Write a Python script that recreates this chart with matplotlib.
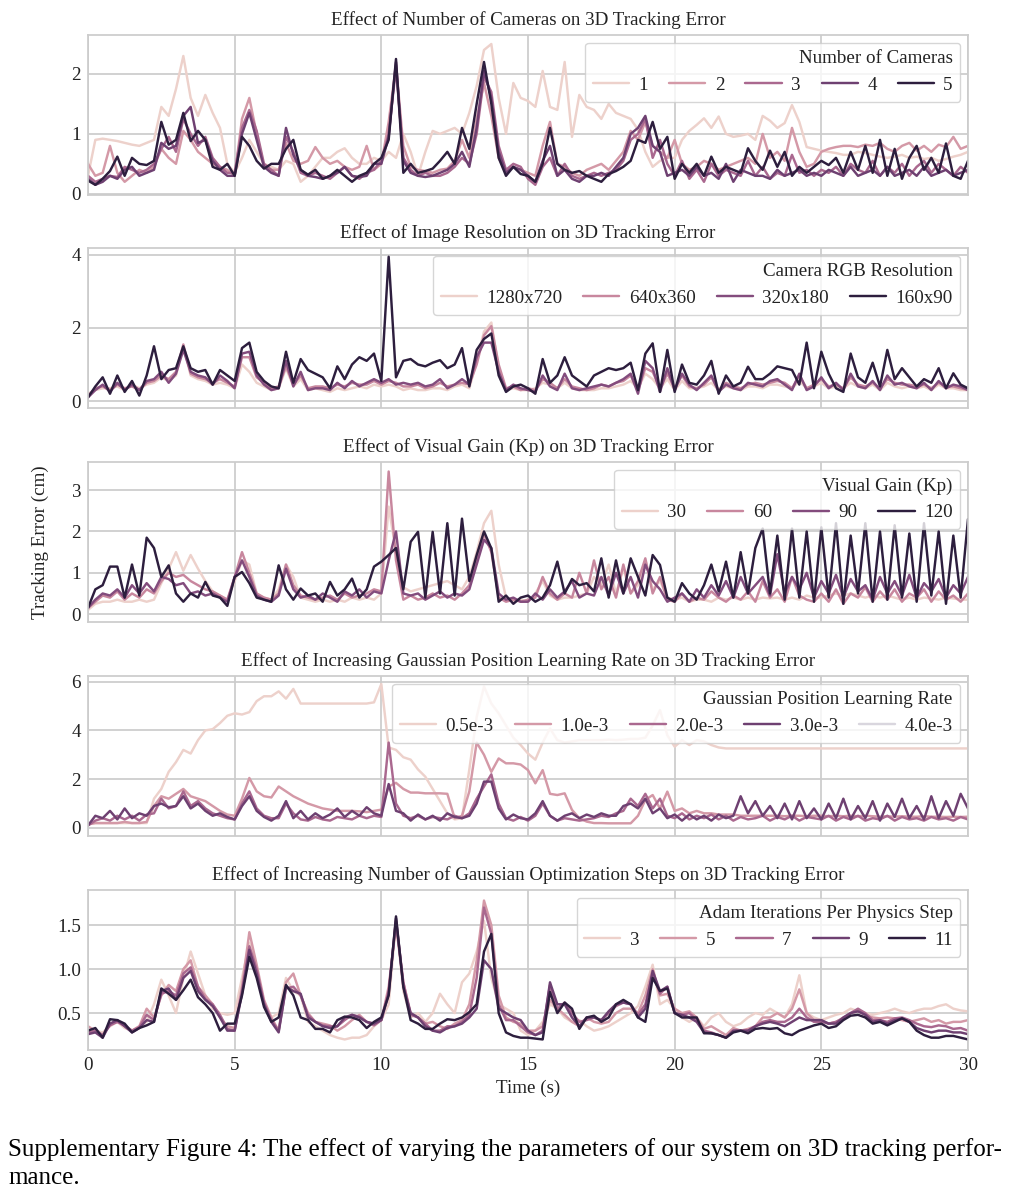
import numpy as np
import matplotlib
matplotlib.use("Agg")
import matplotlib.pyplot as plt
import seaborn as sns
from matplotlib.lines import Line2D

# sample times (0.25 s steps over 30 s)
time_s = np.linspace(0, 30, 121)

# ---- panel 1: number of cameras ----
cam_labels = ["1", "2", "3", "4", "5"]
cam_1 = [0.3, 0.9, 0.92, 0.9, 0.88, 0.85, 0.82, 0.8, 0.85, 0.9, 1.45, 1.3, 1.75, 2.3, 1.6, 1.3, 1.65, 1.35, 1.1, 0.5,
         0.35, 0.6, 0.9, 0.7, 0.5, 0.45, 0.4, 0.55, 0.5, 0.2, 0.3, 0.45, 0.6, 0.6, 0.7, 0.76, 0.6, 0.5, 0.5, 0.6,
         0.55, 0.7, 0.6, 1.0, 0.7, 0.3, 0.7, 1.05, 1.0, 1.05, 1.1, 1.0, 1.35, 1.8, 2.4, 2.5, 1.6, 1.0, 1.85, 1.6,
         1.55, 1.45, 2.05, 1.45, 1.4, 2.2, 0.95, 1.65, 1.45, 1.4, 1.25, 1.5, 1.35, 1.3, 1.25, 1.07, 0.7, 0.45, 0.55, 0.6,
         0.6, 0.9, 1.05, 1.15, 1.26, 1.1, 1.29, 1.0, 0.95, 0.97, 1.0, 0.9, 1.3, 1.22, 1.1, 1.18, 1.48, 1.2, 0.78, 0.75,
         0.72, 0.7, 0.68, 0.65, 0.65, 0.7, 0.68, 0.65, 0.62, 0.6, 0.62, 0.65, 0.6, 0.62, 0.58, 0.6, 0.55, 0.58, 0.62, 0.65, 0.7]
cam_2 = [0.5, 0.3, 0.35, 0.8, 0.35, 0.2, 0.3, 0.4, 0.35, 0.45, 0.75, 0.6, 0.5, 1.05, 0.9, 0.7, 0.6, 0.5, 0.45, 0.4,
         0.3, 1.25, 1.6, 1.0, 0.45, 0.4, 0.4, 0.85, 0.55, 0.5, 0.55, 0.78, 0.6, 0.5, 0.55, 0.45, 0.4, 0.45, 0.8, 0.4,
         0.5, 1.2, 2.15, 0.8, 0.45, 0.4, 0.38, 0.35, 0.4, 0.42, 0.55, 0.9, 0.6, 1.25, 1.85, 1.3, 0.6, 0.35, 0.45, 0.4,
         0.35, 0.3, 0.8, 1.2, 0.5, 0.45, 0.35, 0.3, 0.4, 0.45, 0.5, 0.4, 0.55, 0.7, 1.05, 0.9, 1.2, 0.8, 0.7, 0.6,
         0.9, 0.5, 0.4, 0.45, 0.55, 0.5, 0.4, 0.45, 0.5, 0.55, 0.6, 0.5, 1.0, 0.6, 0.7, 0.55, 1.1, 0.7, 0.45, 0.5,
         0.7, 0.75, 0.78, 0.8, 0.8, 0.78, 0.82, 0.8, 0.85, 0.75, 0.7, 0.8, 0.85, 0.72, 0.8, 0.7, 0.82, 0.78, 0.95, 0.75, 0.8]
cam_3 = [0.3, 0.2, 0.25, 0.3, 0.28, 0.45, 0.4, 0.35, 0.4, 0.5, 0.75, 0.95, 0.7, 1.25, 1.0, 0.8, 0.95, 0.6, 0.45, 0.35,
         0.35, 1.1, 1.4, 1.05, 0.5, 0.4, 0.3, 0.95, 0.7, 0.35, 0.3, 0.35, 0.3, 0.25, 0.35, 0.45, 0.3, 0.25, 0.35, 0.4,
         0.55, 1.0, 2.1, 0.6, 0.4, 0.3, 0.35, 0.3, 0.3, 0.35, 0.45, 0.6, 0.5, 1.0, 1.95, 1.7, 0.8, 0.4, 0.5, 0.45,
         0.25, 0.15, 0.45, 0.6, 0.3, 0.5, 0.3, 0.25, 0.3, 0.35, 0.3, 0.35, 0.4, 0.55, 0.9, 1.0, 1.25, 0.6, 0.9, 0.5,
         0.3, 0.55, 0.25, 0.4, 0.2, 0.5, 0.3, 0.4, 0.35, 0.3, 0.55, 0.3, 0.45, 0.25, 0.35, 0.3, 0.65, 0.35, 0.4, 0.3,
         0.4, 0.35, 0.45, 0.3, 0.5, 0.4, 0.35, 0.55, 0.3, 0.45, 0.35, 0.5, 0.3, 0.45, 0.55, 0.35, 0.5, 0.4, 0.3, 0.45, 0.35]
cam_4 = [0.25, 0.15, 0.2, 0.3, 0.25, 0.4, 0.45, 0.3, 0.35, 0.4, 0.85, 0.75, 0.8, 1.3, 1.45, 0.85, 0.9, 0.55, 0.4, 0.3,
         0.3, 1.0, 1.35, 0.9, 0.45, 0.35, 0.3, 1.1, 0.65, 0.4, 0.3, 0.28, 0.25, 0.3, 0.35, 0.45, 0.3, 0.28, 0.3, 0.5,
         0.5, 0.95, 2.2, 0.55, 0.35, 0.3, 0.28, 0.3, 0.35, 0.4, 0.5, 0.7, 0.45, 1.1, 2.05, 1.6, 0.7, 0.35, 0.45, 0.4,
         0.3, 0.2, 0.55, 0.8, 0.3, 0.4, 0.25, 0.2, 0.3, 0.3, 0.35, 0.3, 0.45, 0.6, 1.0, 1.1, 1.3, 0.8, 0.7, 0.3,
         0.35, 0.4, 0.3, 0.45, 0.3, 0.35, 0.25, 0.5, 0.2, 0.4, 0.35, 0.3, 0.3, 0.25, 0.4, 0.3, 0.35, 0.4, 0.3, 0.35,
         0.3, 0.4, 0.35, 0.3, 0.45, 0.3, 0.35, 0.4, 0.3, 0.45, 0.3, 0.35, 0.4, 0.3, 0.45, 0.3, 0.35, 0.4, 0.3, 0.35, 0.4]
cam_5 = [0.22, 0.15, 0.25, 0.38, 0.62, 0.3, 0.6, 0.5, 0.48, 0.55, 1.2, 0.82, 0.9, 1.35, 0.88, 1.05, 0.9, 0.45, 0.4, 0.5,
         0.3, 0.95, 0.8, 0.55, 0.42, 0.5, 0.5, 0.75, 0.9, 0.4, 0.32, 0.4, 0.25, 0.3, 0.4, 0.3, 0.2, 0.3, 0.35, 0.5,
         0.6, 0.9, 2.25, 0.35, 0.5, 0.35, 0.38, 0.42, 0.55, 0.7, 0.5, 1.1, 0.75, 1.5, 2.2, 1.5, 0.6, 0.3, 0.45, 0.33,
         0.3, 0.2, 0.5, 1.1, 0.5, 0.4, 0.35, 0.38, 0.3, 0.25, 0.2, 0.33, 0.38, 0.45, 0.55, 0.9, 0.85, 1.2, 0.75, 0.95,
         0.25, 0.5, 0.35, 0.5, 0.3, 0.62, 0.35, 0.45, 0.4, 0.35, 0.76, 0.55, 0.4, 0.72, 0.45, 0.7, 0.3, 0.45, 0.35, 0.45,
         0.55, 0.48, 0.6, 0.35, 0.7, 0.4, 0.8, 0.35, 0.9, 0.3, 0.75, 0.25, 0.6, 0.8, 0.4, 0.6, 0.35, 0.84, 0.3, 0.25, 0.55]

# ---- panel 2: image resolution ----
res_labels = ["1280x720", "640x360", "320x180", "160x90"]
res_1280 = [0.2, 0.3, 0.35, 0.35, 0.4, 0.3, 0.45, 0.35, 0.45, 0.5, 0.65, 0.55, 0.7, 1.5, 0.7, 0.6, 0.55, 0.45, 0.5, 0.45,
            0.35, 1.0, 0.8, 0.5, 0.4, 0.3, 0.35, 0.9, 0.4, 0.6, 0.3, 0.35, 0.3, 0.25, 0.35, 0.3, 0.35, 0.4, 0.35, 0.45,
            0.4, 0.45, 0.4, 0.3, 0.35, 0.3, 0.3, 0.35, 0.35, 0.3, 0.4, 0.45, 0.35, 1.1, 1.9, 2.15, 0.9, 0.3, 0.35, 0.3,
            0.3, 0.35, 0.5, 0.45, 0.35, 0.5, 0.35, 0.3, 0.3, 0.3, 0.35, 0.35, 0.4, 0.45, 0.55, 0.35, 0.75, 0.6, 0.35, 0.6,
            0.3, 0.55, 0.35, 0.35, 0.4, 0.5, 0.3, 0.4, 0.35, 0.3, 0.4, 0.4, 0.35, 0.45, 0.45, 0.4, 0.35, 0.55, 0.35, 0.4,
            0.5, 0.35, 0.4, 0.35, 0.5, 0.4, 0.35, 0.45, 0.3, 0.5, 0.4, 0.35, 0.4, 0.35, 0.4, 0.3, 0.45, 0.35, 0.35, 0.3, 0.3]
res_640 = [0.15, 0.35, 0.4, 0.3, 0.45, 0.35, 0.4, 0.3, 0.5, 0.55, 0.7, 0.6, 0.8, 1.55, 0.75, 0.65, 0.6, 0.5, 0.6, 0.5,
           0.4, 1.2, 1.2, 0.65, 0.5, 0.35, 0.4, 0.95, 0.45, 0.7, 0.35, 0.4, 0.4, 0.35, 0.45, 0.4, 0.5, 0.45, 0.45, 0.55,
           0.45, 0.55, 0.5, 0.4, 0.4, 0.45, 0.35, 0.4, 0.5, 0.4, 0.45, 0.5, 0.45, 1.0, 1.8, 2.05, 1.0, 0.35, 0.4, 0.3,
           0.35, 0.3, 0.6, 0.5, 0.35, 0.6, 0.4, 0.35, 0.3, 0.35, 0.45, 0.4, 0.5, 0.55, 0.7, 0.3, 0.9, 0.8, 0.35, 0.75,
           0.35, 0.7, 0.4, 0.35, 0.45, 0.65, 0.3, 0.5, 0.4, 0.35, 0.45, 0.5, 0.45, 0.5, 0.55, 0.5, 0.35, 0.7, 0.35, 0.45,
           0.6, 0.4, 0.45, 0.35, 0.65, 0.45, 0.4, 0.5, 0.35, 0.6, 0.5, 0.45, 0.45, 0.4, 0.45, 0.35, 0.5, 0.4, 0.4, 0.35, 0.3]
res_320 = [0.1, 0.3, 0.45, 0.25, 0.5, 0.3, 0.45, 0.3, 0.55, 0.6, 0.8, 0.5, 0.75, 1.4, 0.8, 0.7, 0.65, 0.45, 0.7, 0.55,
           0.35, 1.3, 1.35, 0.7, 0.45, 0.3, 0.35, 1.1, 0.4, 0.8, 0.3, 0.35, 0.35, 0.3, 0.5, 0.35, 0.55, 0.4, 0.5, 0.6,
           0.5, 0.6, 0.45, 0.5, 0.45, 0.5, 0.4, 0.45, 0.6, 0.35, 0.45, 0.6, 0.45, 1.2, 1.6, 1.6, 0.8, 0.3, 0.45, 0.35,
           0.3, 0.25, 0.7, 0.4, 0.3, 0.75, 0.35, 0.3, 0.35, 0.4, 0.45, 0.4, 0.5, 0.6, 0.75, 0.2, 1.1, 0.9, 0.25, 0.9,
           0.3, 0.75, 0.45, 0.3, 0.5, 0.7, 0.25, 0.45, 0.35, 0.3, 0.5, 0.45, 0.4, 0.55, 0.6, 0.45, 0.3, 0.75, 0.3, 0.4,
           0.65, 0.35, 0.5, 0.3, 0.75, 0.4, 0.35, 0.55, 0.3, 0.7, 0.45, 0.5, 0.4, 0.35, 0.5, 0.3, 0.55, 0.35, 0.45, 0.4, 0.3]
res_160 = [0.1, 0.4, 0.65, 0.2, 0.7, 0.25, 0.55, 0.15, 0.7, 1.5, 0.6, 0.85, 0.9, 1.5, 0.9, 0.8, 0.85, 0.45, 0.85, 0.7,
           0.55, 1.45, 1.6, 0.8, 0.55, 0.4, 0.35, 1.35, 0.5, 1.15, 0.85, 0.75, 0.65, 0.35, 0.95, 0.6, 1.0, 1.2, 1.1, 1.3,
           0.55, 3.95, 0.65, 1.1, 1.15, 1.0, 0.95, 1.05, 1.12, 0.9, 1.0, 1.45, 0.4, 1.4, 1.7, 1.85, 0.7, 0.25, 0.4, 0.45,
           0.35, 0.2, 1.15, 0.5, 0.7, 1.2, 0.7, 0.55, 0.4, 0.7, 0.8, 0.9, 0.85, 0.9, 1.05, 0.3, 1.3, 1.58, 0.25, 1.4,
           0.25, 1.0, 0.5, 0.45, 0.7, 1.1, 0.2, 0.7, 0.4, 0.5, 0.94, 0.6, 0.6, 0.75, 0.95, 0.9, 0.85, 0.45, 1.6, 0.35,
           1.35, 0.75, 0.35, 0.25, 1.3, 0.65, 0.5, 1.05, 0.4, 1.4, 0.6, 0.9, 0.65, 0.4, 0.6, 0.5, 0.9, 0.35, 0.76, 0.45, 0.35]

# ---- panel 3: visual gain ----
kp_labels = ["30", "60", "90", "120"]
kp_30 = [0.1, 0.25, 0.3, 0.3, 0.35, 0.3, 0.3, 0.35, 0.3, 0.35, 0.75, 1.1, 1.5, 1.05, 1.43, 1.1, 0.8, 0.55, 0.45, 0.35,
         0.8, 1.3, 1.2, 0.5, 0.4, 0.35, 0.6, 1.2, 0.9, 0.4, 0.35, 0.3, 0.35, 0.3, 0.35, 0.3, 0.4, 0.35, 0.4, 0.35,
         0.5, 2.6, 1.5, 0.65, 0.55, 0.6, 0.65, 0.7, 0.75, 0.8, 0.7, 0.6, 0.9, 1.5, 2.2, 2.5, 1.2, 0.4, 0.3, 0.35,
         0.3, 0.5, 0.8, 0.45, 0.35, 0.4, 0.4, 0.45, 0.5, 0.9, 0.7, 1.2, 0.5, 1.1, 0.5, 0.7, 1.3, 0.6, 0.8, 0.4,
         0.35, 0.4, 0.3, 0.35, 0.35, 0.3, 0.4, 0.35, 0.4, 0.35, 0.4, 0.35, 0.4, 0.38, 0.4, 0.35, 0.4, 0.35, 0.45, 0.4,
         0.4, 0.45, 0.5, 0.45, 0.5, 0.45, 0.4, 0.45, 0.4, 0.45, 0.4, 0.35, 0.4, 0.35, 0.4, 0.38, 0.35, 0.4, 0.38, 0.35, 0.35]
kp_60 = [0.15, 0.3, 0.45, 0.4, 0.55, 0.35, 0.5, 0.4, 0.6, 0.5, 0.8, 1.0, 0.9, 0.95, 0.8, 0.7, 0.6, 0.55, 0.45, 0.35,
         0.9, 1.5, 1.0, 0.5, 0.4, 0.35, 0.5, 1.2, 0.7, 0.45, 0.4, 0.35, 0.4, 0.45, 0.35, 0.5, 0.4, 0.45, 0.5, 0.6,
         0.55, 3.45, 1.3, 0.35, 0.45, 0.35, 0.4, 0.5, 0.4, 0.45, 0.35, 0.5, 0.7, 1.3, 1.95, 1.5, 0.4, 0.3, 0.35, 0.3,
         0.35, 0.4, 0.9, 0.5, 0.35, 0.5, 0.4, 1.0, 0.5, 1.3, 0.6, 0.9, 0.4, 1.2, 0.5, 0.8, 1.35, 0.5, 0.9, 0.35,
         0.3, 0.5, 0.3, 0.4, 0.35, 0.55, 0.4, 0.3, 0.45, 0.35, 0.55, 0.3, 0.8, 0.4, 0.6, 0.3, 0.9, 0.45, 0.35, 0.3,
         0.5, 0.3, 0.6, 0.25, 0.5, 0.4, 0.65, 0.3, 0.55, 0.35, 0.6, 0.3, 0.5, 0.4, 0.6, 0.3, 0.55, 0.35, 0.45, 0.3, 0.5]
kp_90 = [0.15, 0.35, 0.5, 0.45, 0.6, 0.4, 0.7, 0.5, 0.75, 0.55, 0.9, 0.85, 0.7, 0.75, 0.5, 0.55, 0.45, 0.5, 0.4, 0.3,
         0.9, 1.3, 0.9, 0.45, 0.35, 0.3, 0.45, 1.1, 0.6, 0.4, 0.45, 0.35, 0.5, 0.4, 0.3, 0.55, 0.45, 0.6, 0.4, 0.55,
         0.5, 1.3, 2.0, 0.5, 0.45, 0.5, 0.35, 0.45, 0.55, 0.4, 0.5, 0.45, 0.6, 1.2, 1.8, 1.6, 0.5, 0.35, 0.4, 0.3,
         0.3, 0.5, 0.35, 0.6, 0.4, 0.55, 0.8, 0.4, 0.5, 0.45, 0.9, 0.45, 1.0, 0.5, 0.9, 0.4, 1.2, 0.8, 0.6, 0.3,
         0.4, 0.5, 0.3, 0.6, 0.4, 0.7, 0.45, 0.8, 0.4, 0.9, 0.5, 0.7, 0.9, 0.45, 1.45, 0.5, 0.9, 0.6, 1.0, 0.4,
         0.8, 0.5, 0.95, 0.4, 0.85, 0.55, 0.7, 0.35, 0.9, 0.5, 0.8, 0.45, 0.95, 0.4, 0.75, 0.55, 0.85, 0.4, 0.7, 0.5, 0.9]
kp_120 = [0.15, 0.6, 0.7, 1.15, 1.15, 0.4, 1.2, 0.45, 1.85, 1.6, 0.9, 1.18, 0.5, 0.3, 0.5, 0.4, 0.78, 0.45, 0.4, 0.2,
          0.9, 1.02, 0.75, 0.4, 0.35, 0.3, 1.18, 0.6, 0.35, 0.62, 0.45, 0.5, 0.3, 0.78, 0.45, 0.6, 0.86, 0.4, 0.6, 1.15,
          1.27, 1.43, 1.6, 0.6, 1.75, 1.99, 0.4, 1.99, 0.5, 2.2, 0.45, 2.31, 0.8, 1.43, 2.0, 1.59, 0.3, 0.45, 0.25, 0.4,
          0.45, 0.3, 0.4, 0.7, 1.27, 0.5, 0.85, 0.7, 0.75, 0.55, 1.35, 0.4, 1.3, 0.5, 1.35, 0.9, 0.45, 1.43, 1.19, 0.4,
          0.3, 0.75, 0.5, 0.35, 0.7, 1.2, 0.55, 1.27, 0.4, 1.5, 0.5, 1.6, 2.07, 0.5, 1.9, 0.35, 2.07, 0.4, 2.0, 0.3,
          2.1, 0.4, 2.2, 0.25, 1.9, 0.5, 2.2, 0.3, 2.0, 0.35, 2.15, 0.4, 1.95, 0.3, 2.2, 0.45, 2.0, 0.25, 1.9, 0.4, 2.3]

# ---- panel 4: gaussian position learning rate ----
lr_labels = ["0.5e-3", "1.0e-3", "2.0e-3", "3.0e-3", "4.0e-3"]
lr_05 = [0.15, 0.2, 0.2, 0.2, 0.2, 0.2, 0.2, 0.2, 0.2, 1.2, 1.6, 2.3, 2.7, 3.2, 3.05, 3.6, 4.0, 4.05, 4.3, 4.6,
         4.7, 4.65, 4.75, 5.2, 5.4, 5.4, 5.6, 5.3, 5.7, 5.1, 5.1, 5.1, 5.1, 5.1, 5.1, 5.1, 5.1, 5.1, 5.1, 5.15,
         5.9, 3.3, 3.2, 2.9, 2.8, 2.4, 2.1, 1.6, 1.1, 0.6, 0.35, 0.4, 2.4, 4.55, 5.8, 5.1, 4.7, 4.2, 3.7, 3.4,
         3.05, 2.8, 3.5, 4.08, 3.6, 3.5, 3.55, 3.6, 3.6, 3.6, 3.6, 3.62, 3.6, 3.62, 3.65, 3.65, 3.7, 4.2, 4.83, 3.8,
         3.33, 3.6, 3.4, 3.6, 3.55, 3.4, 3.3, 3.26, 3.26, 3.26, 3.26, 3.26, 3.26, 3.26, 3.26, 3.26, 3.26, 3.26, 3.26, 3.26,
         3.26, 3.26, 3.26, 3.26, 3.26, 3.26, 3.26, 3.26, 3.26, 3.26, 3.26, 3.26, 3.26, 3.26, 3.26, 3.26, 3.26, 3.26, 3.26, 3.26, 3.26]
lr_10 = [0.15, 0.2, 0.2, 0.2, 0.2, 0.25, 0.2, 0.2, 0.25, 0.9, 1.3, 1.2, 1.4, 1.6, 1.3, 1.2, 1.1, 0.9, 0.7, 0.55,
         0.5, 1.2, 2.05, 1.5, 1.3, 1.25, 1.7, 1.5, 1.3, 1.15, 1.0, 0.9, 0.8, 0.75, 0.7, 0.7, 0.7, 0.68, 0.65, 0.7,
         0.75, 1.7, 1.85, 1.6, 1.45, 1.45, 1.42, 1.42, 1.42, 1.4, 0.4, 0.5, 1.5, 3.5, 3.0, 2.3, 2.85, 2.65, 2.65, 2.6,
         2.37, 1.83, 2.37, 1.4, 1.35, 1.42, 0.74, 0.4, 0.26, 0.2, 0.2, 0.19, 0.19, 0.19, 0.19, 0.5, 1.15, 1.35, 0.8, 1.49,
         0.7, 0.8, 0.6, 0.7, 0.6, 0.6, 0.55, 0.55, 0.55, 0.5, 0.5, 0.5, 0.5, 0.5, 0.5, 0.48, 0.5, 0.5, 0.48, 0.5,
         0.5, 0.48, 0.5, 0.48, 0.5, 0.48, 0.5, 0.48, 0.46, 0.48, 0.46, 0.48, 0.46, 0.46, 0.48, 0.46, 0.46, 0.45, 0.46, 0.45, 0.46]
lr_20 = [0.1, 0.3, 0.4, 0.3, 0.5, 0.35, 0.5, 0.3, 0.55, 0.6, 1.2, 0.8, 0.9, 1.5, 0.9, 1.1, 0.8, 0.6, 0.5, 0.4,
         0.35, 1.0, 1.5, 0.8, 0.5, 0.4, 0.4, 1.0, 0.6, 0.35, 0.3, 0.45, 0.35, 0.3, 0.45, 0.4, 0.35, 0.5, 0.4, 0.5,
         0.45, 3.5, 1.0, 0.5, 0.4, 0.5, 0.35, 0.45, 0.4, 0.35, 0.5, 0.4, 0.6, 1.2, 1.7, 2.2, 1.0, 0.4, 0.3, 0.45,
         0.3, 0.5, 1.0, 0.5, 0.3, 0.4, 0.35, 0.3, 0.35, 0.4, 0.5, 0.45, 0.6, 0.7, 1.2, 0.9, 1.4, 0.8, 1.2, 0.5,
         0.4, 0.6, 0.35, 0.5, 0.4, 0.55, 0.35, 0.5, 0.3, 0.45, 0.35, 0.4, 0.5, 0.3, 0.45, 0.35, 0.5, 0.3, 0.45, 0.4,
         0.35, 0.5, 0.3, 0.45, 0.35, 0.5, 0.3, 0.4, 0.35, 0.5, 0.3, 0.45, 0.35, 0.4, 0.3, 0.45, 0.35, 0.4, 0.3, 0.45, 0.35]
lr_30 = [0.1, 0.5, 0.4, 0.7, 0.35, 0.8, 0.4, 0.6, 0.5, 0.9, 1.0, 0.85, 0.9, 1.3, 0.8, 1.0, 0.7, 0.5, 0.6, 0.45,
         0.35, 0.9, 1.3, 0.7, 0.45, 0.3, 0.5, 1.1, 0.4, 0.7, 0.35, 0.6, 0.4, 0.55, 0.8, 0.45, 0.7, 0.5, 0.85, 0.6,
         0.5, 1.8, 0.7, 0.6, 0.3, 0.55, 0.35, 0.5, 0.3, 0.6, 0.45, 0.4, 0.5, 1.0, 1.9, 1.9, 0.8, 0.35, 0.55, 0.4,
         0.35, 0.6, 1.1, 0.5, 0.3, 0.5, 0.6, 0.4, 0.55, 0.45, 0.6, 0.5, 0.5, 0.9, 1.0, 0.8, 1.2, 0.6, 0.8, 0.4,
         0.55, 0.3, 0.55, 0.35, 0.5, 0.3, 0.55, 0.4, 0.5, 1.3, 0.6, 1.1, 0.5, 0.9, 0.4, 1.0, 0.35, 1.1, 0.4, 0.8,
         0.35, 1.0, 0.4, 1.2, 0.35, 0.9, 0.4, 1.1, 0.3, 1.0, 0.45, 1.2, 0.4, 0.9, 0.35, 1.3, 0.4, 1.1, 0.5, 1.4, 0.8]
lr_40 = []  # no curve drawn for this rate, legend entry only

# ---- panel 5: adam iterations ----
it_labels = ["3", "5", "7", "9", "11"]
it_3 = [0.3, 0.3, 0.28, 0.35, 0.4, 0.33, 0.3, 0.35, 0.4, 0.6, 0.88, 0.7, 0.5, 0.9, 1.2, 0.95, 0.7, 0.55, 0.5, 0.48,
        0.5, 0.9, 1.3, 1.0, 0.6, 0.45, 0.5, 0.9, 0.75, 0.7, 0.4, 0.35, 0.3, 0.25, 0.22, 0.2, 0.22, 0.22, 0.25, 0.35,
        0.42, 0.6, 1.55, 0.75, 0.45, 0.5, 0.4, 0.5, 0.72, 0.6, 0.5, 0.85, 0.95, 1.2, 1.55, 0.9, 0.6, 0.55, 0.5, 0.3,
        0.25, 0.3, 0.4, 0.6, 0.55, 0.45, 0.4, 0.42, 0.35, 0.3, 0.32, 0.35, 0.4, 0.45, 0.5, 0.58, 0.8, 1.05, 0.6, 0.65,
        0.55, 0.45, 0.4, 0.45, 0.35, 0.45, 0.5, 0.4, 0.35, 0.38, 0.45, 0.5, 0.48, 0.55, 0.5, 0.45, 0.6, 0.93, 0.5, 0.45,
        0.42, 0.45, 0.48, 0.5, 0.55, 0.52, 0.5, 0.48, 0.5, 0.52, 0.55, 0.52, 0.5, 0.53, 0.55, 0.55, 0.58, 0.6, 0.55, 0.53, 0.52]
it_5 = [0.35, 0.3, 0.25, 0.38, 0.4, 0.35, 0.3, 0.35, 0.55, 0.45, 0.7, 0.82, 0.75, 1.0, 1.1, 0.8, 0.7, 0.6, 0.45, 0.35,
        0.33, 0.8, 1.42, 1.05, 0.65, 0.45, 0.3, 0.85, 0.95, 0.7, 0.5, 0.4, 0.38, 0.36, 0.3, 0.35, 0.42, 0.48, 0.4, 0.38,
        0.42, 0.8, 1.5, 0.85, 0.5, 0.45, 0.38, 0.4, 0.35, 0.32, 0.38, 0.42, 0.6, 1.1, 1.78, 1.5, 0.7, 0.45, 0.4, 0.38,
        0.3, 0.3, 0.35, 0.65, 0.55, 0.48, 0.4, 0.35, 0.45, 0.4, 0.38, 0.4, 0.5, 0.55, 0.55, 0.5, 0.7, 1.0, 0.7, 0.72,
        0.55, 0.5, 0.52, 0.45, 0.32, 0.35, 0.3, 0.25, 0.33, 0.3, 0.32, 0.35, 0.45, 0.45, 0.5, 0.45, 0.55, 0.77, 0.5, 0.42,
        0.42, 0.38, 0.4, 0.45, 0.5, 0.52, 0.48, 0.45, 0.44, 0.45, 0.44, 0.42, 0.4, 0.42, 0.44, 0.4, 0.42, 0.38, 0.4, 0.4, 0.42]
it_7 = [0.28, 0.3, 0.25, 0.36, 0.4, 0.36, 0.3, 0.34, 0.48, 0.42, 0.72, 0.75, 0.7, 0.95, 1.02, 0.8, 0.66, 0.6, 0.48, 0.32,
        0.3, 0.75, 1.26, 1.0, 0.62, 0.42, 0.3, 0.78, 0.8, 0.7, 0.48, 0.4, 0.36, 0.35, 0.35, 0.42, 0.48, 0.46, 0.4, 0.36,
        0.42, 0.75, 1.55, 0.85, 0.48, 0.45, 0.38, 0.3, 0.3, 0.35, 0.35, 0.4, 0.48, 0.9, 1.7, 1.4, 0.6, 0.42, 0.42, 0.35,
        0.28, 0.25, 0.3, 0.82, 0.55, 0.62, 0.5, 0.4, 0.42, 0.45, 0.42, 0.5, 0.58, 0.62, 0.6, 0.48, 0.6, 0.95, 0.72, 0.8,
        0.5, 0.48, 0.5, 0.42, 0.3, 0.28, 0.25, 0.22, 0.3, 0.3, 0.3, 0.35, 0.4, 0.42, 0.4, 0.4, 0.45, 0.55, 0.45, 0.4,
        0.4, 0.38, 0.4, 0.44, 0.5, 0.55, 0.5, 0.42, 0.42, 0.4, 0.44, 0.45, 0.42, 0.38, 0.35, 0.34, 0.36, 0.35, 0.32, 0.33, 0.3]
it_9 = [0.26, 0.28, 0.22, 0.38, 0.42, 0.35, 0.28, 0.33, 0.42, 0.4, 0.75, 0.78, 0.65, 0.9, 0.98, 0.75, 0.65, 0.58, 0.45, 0.3,
        0.3, 0.72, 1.22, 0.95, 0.6, 0.4, 0.28, 0.8, 0.75, 0.72, 0.45, 0.4, 0.35, 0.33, 0.35, 0.45, 0.48, 0.45, 0.4, 0.38,
        0.42, 0.72, 1.58, 0.8, 0.5, 0.45, 0.35, 0.3, 0.28, 0.33, 0.35, 0.38, 0.45, 0.55, 1.1, 1.0, 0.55, 0.5, 0.45, 0.42,
        0.3, 0.25, 0.28, 0.85, 0.6, 0.6, 0.45, 0.35, 0.45, 0.45, 0.42, 0.52, 0.6, 0.62, 0.6, 0.45, 0.55, 0.98, 0.75, 0.8,
        0.5, 0.48, 0.45, 0.4, 0.28, 0.27, 0.25, 0.22, 0.3, 0.3, 0.3, 0.35, 0.38, 0.4, 0.38, 0.35, 0.4, 0.45, 0.42, 0.42,
        0.42, 0.38, 0.38, 0.45, 0.5, 0.52, 0.48, 0.4, 0.42, 0.38, 0.42, 0.44, 0.4, 0.33, 0.3, 0.28, 0.3, 0.3, 0.28, 0.28, 0.26]
it_11 = [0.3, 0.33, 0.22, 0.43, 0.42, 0.38, 0.28, 0.33, 0.36, 0.4, 0.78, 0.72, 0.65, 0.76, 0.88, 0.68, 0.6, 0.5, 0.3, 0.38,
         0.38, 0.7, 1.14, 0.9, 0.57, 0.4, 0.45, 0.82, 0.7, 0.45, 0.42, 0.32, 0.32, 0.28, 0.42, 0.46, 0.45, 0.42, 0.33, 0.4,
         0.45, 0.7, 1.6, 0.8, 0.42, 0.38, 0.32, 0.32, 0.38, 0.43, 0.42, 0.45, 0.51, 0.6, 1.2, 1.4, 0.5, 0.28, 0.24, 0.22,
         0.22, 0.21, 0.2, 0.74, 0.5, 0.62, 0.55, 0.32, 0.45, 0.47, 0.4, 0.45, 0.6, 0.65, 0.6, 0.45, 0.4, 0.9, 0.75, 0.78,
         0.5, 0.45, 0.45, 0.45, 0.27, 0.27, 0.25, 0.22, 0.28, 0.3, 0.27, 0.32, 0.33, 0.32, 0.33, 0.27, 0.25, 0.3, 0.33, 0.36,
         0.38, 0.33, 0.35, 0.42, 0.47, 0.48, 0.45, 0.38, 0.4, 0.36, 0.4, 0.44, 0.4, 0.3, 0.25, 0.22, 0.22, 0.24, 0.24, 0.22, 0.2]

sns.set_theme(style="whitegrid")
plt.rcParams['font.family'] = ['Liberation Serif', 'DejaVu Serif']
plt.rcParams.update({
    'axes.edgecolor': '#cccccc',
    'grid.color': '#cccccc',
    'axes.linewidth': 1.25,
    'grid.linewidth': 1.25,
    'text.color': '#222222',
    'xtick.color': '#222222',
    'ytick.color': '#222222',
    'axes.labelcolor': '#222222',
})

W, H = 1026, 1193
fig = plt.figure(figsize=(W / 100, H / 100), dpi=100)
FS = 13.7

panels = [
    ("Effect of Number of Cameras on 3D Tracking Error", "Number of Cameras", cam_labels,
     [cam_1, cam_2, cam_3, cam_4, cam_5], (-0.02, 2.65), [0, 1, 2]),
    ("Effect of Image Resolution on 3D Tracking Error", "Camera RGB Resolution", res_labels,
     [res_1280, res_640, res_320, res_160], (-0.19, 4.19), [0, 2, 4]),
    ("Effect of Visual Gain (Kp) on 3D Tracking Error", "Visual Gain (Kp)", kp_labels,
     [kp_30, kp_60, kp_90, kp_120], (-0.19, 3.68), [0, 1, 2, 3]),
    ("Effect of Increasing Gaussian Position Learning Rate on 3D Tracking Error", "Gaussian Position Learning Rate",
     lr_labels, [lr_05, lr_10, lr_20, lr_30, lr_40], (-0.33, 6.23), [0, 2, 4, 6]),
    ("Effect of Increasing Number of Gaussian Optimization Steps on 3D Tracking Error",
     "Adam Iterations Per Physics Step", it_labels, [it_3, it_5, it_7, it_9, it_11], (0.08, 1.90), [0.5, 1.0, 1.5]),
]
tops = [35, 248, 462, 676, 890]

for i, (title, leg_title, labels, series, ylim, yticks) in enumerate(panels):
    top = tops[i]
    ax = fig.add_axes([88 / W, 1 - (top + 160) / H, 880 / W, 160 / H])
    pal = sns.cubehelix_palette(len(series))
    handles = []
    for k, vals in enumerate(series):
        col = pal[k]
        if i == 3 and k == 4:
            col = '#d9d6de'
        ax.plot(time_s[:len(vals)], vals, color=col, lw=1.75)
        handles.append(Line2D([], [], color=col, lw=1.75))
    ax.set_xlim(0, 30)
    ax.set_ylim(*ylim)
    ax.set_xticks([0, 5, 10, 15, 20, 25, 30])
    ax.set_yticks(yticks)
    if i == 4:
        ax.set_yticklabels(["0.5", "1.0", "1.5"])
        ax.set_xlabel("Time (s)", fontsize=FS, labelpad=4)
    else:
        ax.tick_params(labelbottom=False)
    ax.tick_params(labelsize=FS, pad=5, length=0)
    ax.set_title(title, fontsize=FS, pad=7)
    leg = ax.legend(handles, labels, title=leg_title, ncol=len(labels), loc='upper right',
                    fontsize=FS, title_fontsize=FS, handlelength=1.9, handletextpad=0.5,
                    columnspacing=1.1, borderaxespad=0.4, alignment='right', framealpha=0.8)
    leg.get_frame().set_edgecolor('#cccccc')
    if i == 2:
        ax.set_ylabel("Tracking Error (cm)", fontsize=FS, labelpad=16)

fig.text(8 / W, 1 - 1150 / H,
         "Supplementary Figure 4: The effect of varying the parameters of our system on 3D tracking perfor-",
         fontsize=18, va='center', ha='left', color='black')
fig.text(8 / W, 1 - 1178 / H, "mance.", fontsize=18, va='center', ha='left', color='black')

fig.savefig("out.png", dpi=100)
